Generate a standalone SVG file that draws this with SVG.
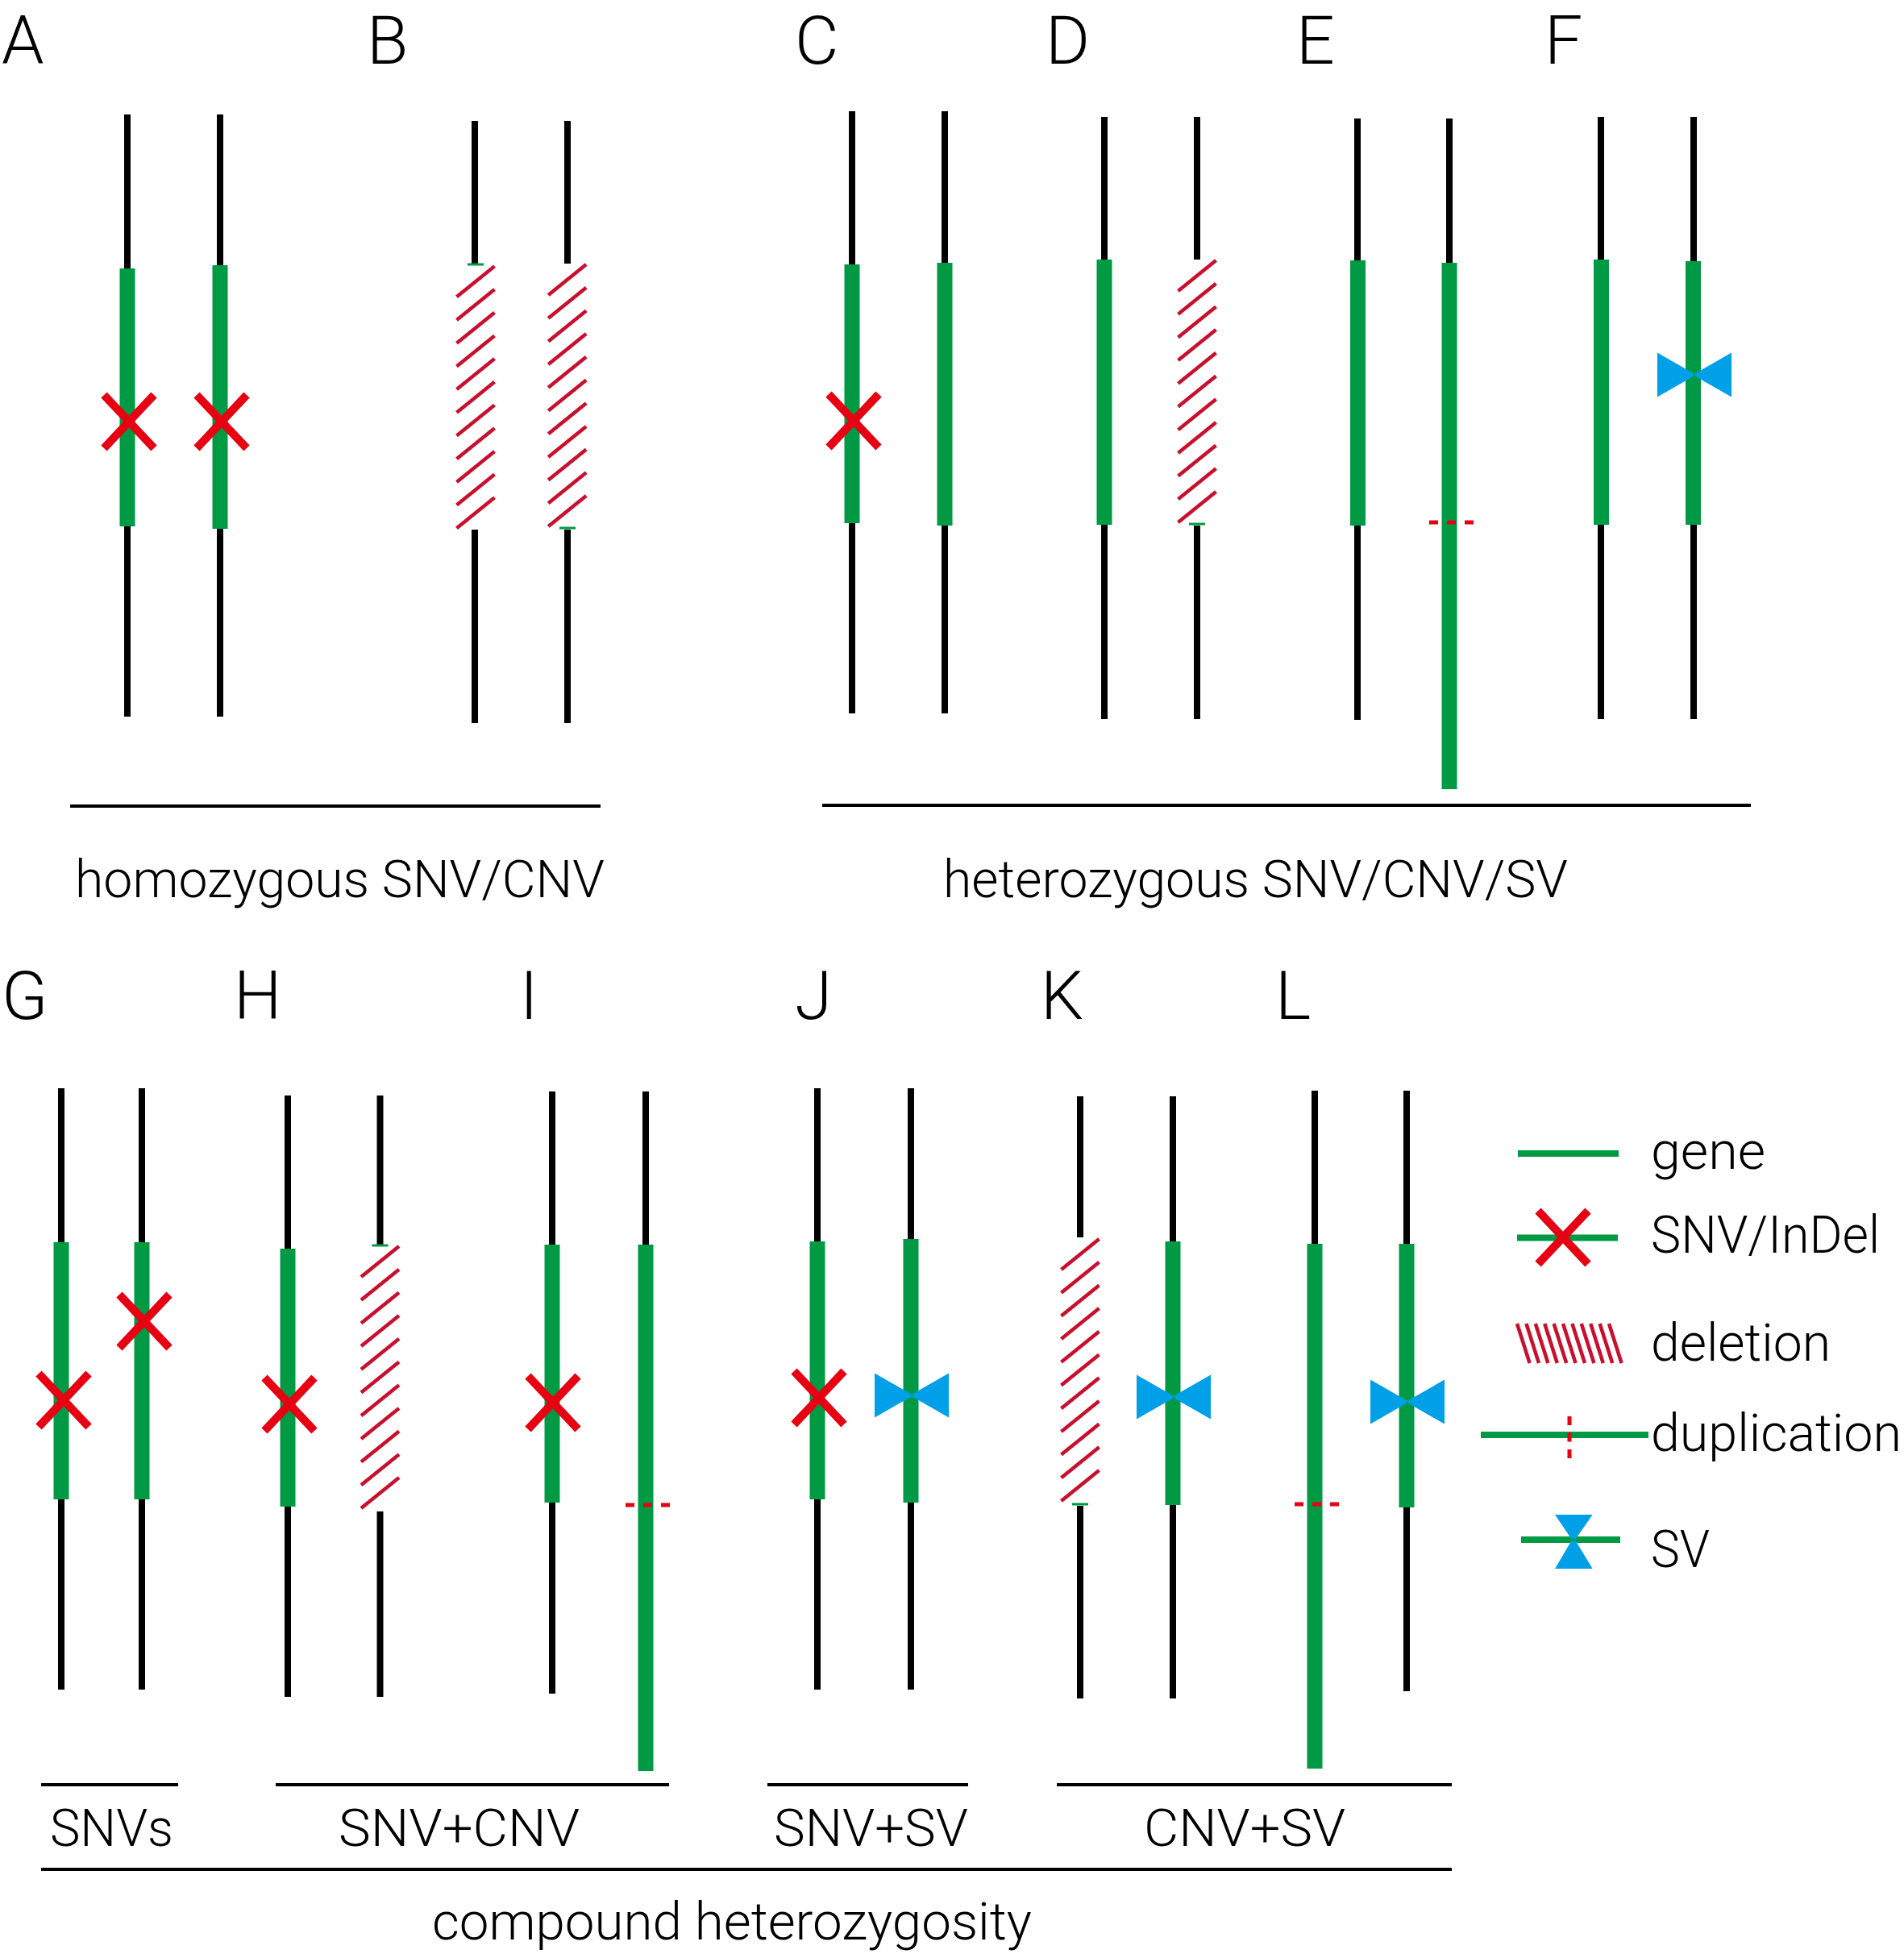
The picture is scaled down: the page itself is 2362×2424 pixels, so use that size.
<svg xmlns="http://www.w3.org/2000/svg" xmlns:xlink="http://www.w3.org/1999/xlink" width="2362" height="2424" viewBox="0 0 2362 2424">
<style>
.chr{fill:#000}
.gene{fill:#009a44}
.tick{fill:#009a44}
.lbl{font-family:Roboto,"Liberation Sans",Arial,sans-serif;font-weight:300;font-size:84px;fill:#000}
.txt{font-family:Roboto,"Liberation Sans",Arial,sans-serif;font-weight:300;font-size:64px;fill:#000}
.br{stroke:#000;stroke-width:4;fill:none}
.xm line{stroke:#e60012;stroke-width:10}
.dup{stroke:#e60012;stroke-width:5;stroke-dasharray:11 11}
.sv{fill:#00a0e9}
.hatch line{stroke:#c8102e;stroke-width:4.5}
</style>
<defs>
<g id="xmark" class="xm"><line x1="-31" y1="-33" x2="31" y2="33"/><line x1="31" y1="-33" x2="-31" y2="33"/></g>
<path id="bow" class="sv" d="M-46,-27.5 L2,0 L-46,27.5 Z M46,-27.5 L-2,0 L46,27.5 Z"/>
<g id="hatch" class="hatch">
<line x1="-23.5" y1="0" x2="23.5" y2="-38"/>
<line x1="-23.5" y1="28.7" x2="23.5" y2="-9.3"/>
<line x1="-23.5" y1="57.4" x2="23.5" y2="19.4"/>
<line x1="-23.5" y1="86.1" x2="23.5" y2="48.1"/>
<line x1="-23.5" y1="114.8" x2="23.5" y2="76.8"/>
<line x1="-23.5" y1="143.5" x2="23.5" y2="105.5"/>
<line x1="-23.5" y1="172.2" x2="23.5" y2="134.2"/>
<line x1="-23.5" y1="200.9" x2="23.5" y2="162.9"/>
<line x1="-23.5" y1="229.6" x2="23.5" y2="191.6"/>
<line x1="-23.5" y1="258.3" x2="23.5" y2="220.3"/>
<line x1="-23.5" y1="287" x2="23.5" y2="249"/>
</g>
</defs>
<rect width="2362" height="2424" fill="#fff"/>

<!-- Panel labels -->
<g id="labels">
<text class="lbl" x="2" y="79">A</text>
<text class="lbl" x="455" y="79">B</text>
<text class="lbl" x="986" y="79">C</text>
<text class="lbl" x="1297" y="79">D</text>
<text class="lbl" x="1608" y="79">E</text>
<text class="lbl" x="1916" y="79">F</text>
<text class="lbl" x="2" y="1264">G</text>
<text class="lbl" x="290" y="1264">H</text>
<text class="lbl" x="645" y="1264">I</text>
<text class="lbl" x="986" y="1264">J</text>
<text class="lbl" x="1291" y="1264">K</text>
<text class="lbl" x="1582" y="1264">L</text>
</g>

<!-- A -->
<g id="A">
<rect class="chr" x="154" y="142" width="8" height="747"/>
<rect class="gene" x="148.5" y="333" width="19" height="320"/>
<use xlink:href="#xmark" x="160" y="523"/>
<rect class="chr" x="269" y="142" width="8" height="747"/>
<rect class="gene" x="263.5" y="329" width="19" height="327"/>
<use xlink:href="#xmark" x="275" y="523"/>
</g>
<!-- B -->
<g id="B">
<rect class="chr" x="585" y="150" width="8" height="177"/>
<rect class="tick" x="580" y="326.5" width="20" height="3"/>
<use xlink:href="#hatch" transform="translate(590,368.3)"/>
<rect class="chr" x="585" y="657" width="8" height="240"/>
<rect class="chr" x="700" y="150" width="8" height="177"/>
<use xlink:href="#hatch" transform="translate(703.7,366)"/>
<rect class="tick" x="694" y="653.5" width="20" height="3"/>
<rect class="chr" x="700" y="657" width="8" height="240"/>
</g>
<!-- C -->
<g id="C">
<rect class="chr" x="1053" y="138" width="8" height="747"/>
<rect class="gene" x="1047.5" y="328" width="19" height="321"/>
<use xlink:href="#xmark" x="1059" y="522"/>
<rect class="chr" x="1168" y="138" width="8" height="747"/>
<rect class="gene" x="1162.5" y="326" width="19" height="326"/>
</g>
<!-- D -->
<g id="D">
<rect class="chr" x="1366" y="145" width="8" height="747"/>
<rect class="gene" x="1360.5" y="322" width="19" height="329"/>
<rect class="chr" x="1481" y="145" width="8" height="177"/>
<use xlink:href="#hatch" transform="translate(1485,361)"/>
<rect class="tick" x="1475" y="648.5" width="20" height="3"/>
<rect class="chr" x="1481" y="652" width="8" height="240"/>
</g>
<!-- E -->
<g id="E">
<rect class="chr" x="1680" y="147" width="8" height="746"/>
<rect class="gene" x="1675" y="323" width="19" height="329"/>
<rect class="chr" x="1794" y="147" width="8" height="179"/>
<rect class="gene" x="1788.5" y="326" width="19" height="653"/>
<line class="dup" x1="1773" y1="648" x2="1828" y2="648"/>
</g>
<!-- F -->
<g id="F">
<rect class="chr" x="1982" y="145" width="8" height="747"/>
<rect class="gene" x="1977" y="322" width="19" height="329"/>
<rect class="chr" x="2097" y="145" width="8" height="747"/>
<rect class="gene" x="2091" y="324" width="19" height="327"/>
<use xlink:href="#bow" x="2102" y="465"/>
</g>

<!-- G -->
<g id="G">
<rect class="chr" x="72" y="1350" width="8" height="746"/>
<rect class="gene" x="66.5" y="1541" width="19" height="319"/>
<use xlink:href="#xmark" x="79" y="1737"/>
<rect class="chr" x="172" y="1350" width="8" height="746"/>
<rect class="gene" x="166.5" y="1541" width="19" height="319"/>
<use xlink:href="#xmark" x="179" y="1639"/>
</g>
<!-- H -->
<g id="H">
<rect class="chr" x="353" y="1359" width="8" height="746"/>
<rect class="gene" x="347.5" y="1549" width="19" height="320"/>
<use xlink:href="#xmark" x="359" y="1742"/>
<rect class="chr" x="467.5" y="1359" width="8" height="185"/>
<rect class="tick" x="461.5" y="1543.5" width="20" height="3"/>
<use xlink:href="#hatch" transform="translate(471.5,1584)"/>
<rect class="chr" x="467.5" y="1875" width="8" height="230"/>
</g>
<!-- I -->
<g id="I">
<rect class="chr" x="681" y="1354" width="8" height="747"/>
<rect class="gene" x="675.5" y="1544" width="19" height="320"/>
<use xlink:href="#xmark" x="686" y="1740"/>
<rect class="chr" x="797" y="1354" width="8" height="190"/>
<rect class="gene" x="791.5" y="1544" width="19" height="653"/>
<line class="dup" x1="776" y1="1867" x2="831" y2="1867"/>
</g>
<!-- J -->
<g id="J">
<rect class="chr" x="1010" y="1350" width="8" height="746"/>
<rect class="gene" x="1004.5" y="1540" width="19" height="320"/>
<use xlink:href="#xmark" x="1016" y="1734"/>
<rect class="chr" x="1126" y="1350" width="8" height="746"/>
<rect class="gene" x="1120.5" y="1537" width="19" height="327"/>
<use xlink:href="#bow" x="1131" y="1731"/>
</g>
<!-- K -->
<g id="K">
<rect class="chr" x="1336" y="1360" width="8" height="175"/>
<use xlink:href="#hatch" transform="translate(1340,1575)"/>
<rect class="tick" x="1330" y="1864.5" width="20" height="3"/>
<rect class="chr" x="1336" y="1868" width="8" height="239"/>
<rect class="chr" x="1451" y="1360" width="8" height="747"/>
<rect class="gene" x="1445.5" y="1540" width="19" height="327"/>
<use xlink:href="#bow" x="1456" y="1733"/>
</g>
<!-- L -->
<g id="L">
<rect class="chr" x="1627" y="1353" width="8" height="190"/>
<rect class="gene" x="1621.5" y="1543" width="19" height="651"/>
<line class="dup" x1="1606" y1="1866" x2="1661" y2="1866"/>
<rect class="chr" x="1741" y="1353" width="8" height="745"/>
<rect class="gene" x="1735.5" y="1543" width="19" height="327"/>
<use xlink:href="#bow" x="1746" y="1739"/>
</g>

<!-- grouping brackets -->
<g id="connectors" class="br">
<line x1="87" y1="1000" x2="745" y2="1000"/>
<line x1="1020" y1="999" x2="2172" y2="999"/>
<line x1="51" y1="2214" x2="221" y2="2214"/>
<line x1="342" y1="2214" x2="830" y2="2214"/>
<line x1="952" y1="2214" x2="1201" y2="2214"/>
<line x1="1311" y1="2214" x2="1801" y2="2214"/>
<line x1="51" y1="2319" x2="1801" y2="2319"/>
</g>

<g id="captions">
<text class="txt" x="93" y="1113" textLength="657" lengthAdjust="spacingAndGlyphs">homozygous SNV/CNV</text>
<text class="txt" x="1170" y="1113" textLength="775" lengthAdjust="spacingAndGlyphs">heterozygous SNV/CNV/SV</text>
<text class="txt" x="62" y="2290" textLength="153" lengthAdjust="spacingAndGlyphs">SNVs</text>
<text class="txt" x="420" y="2290" textLength="299" lengthAdjust="spacingAndGlyphs">SNV+CNV</text>
<text class="txt" x="960" y="2290" textLength="241" lengthAdjust="spacingAndGlyphs">SNV+SV</text>
<text class="txt" x="1419" y="2290" textLength="250" lengthAdjust="spacingAndGlyphs">CNV+SV</text>
<text class="txt" x="536" y="2406" textLength="744" lengthAdjust="spacingAndGlyphs">compound heterozygosity</text>
</g>

<!-- legend -->
<g id="legend-gene">
<rect class="gene" x="1883" y="1427" width="125" height="8"/>
<text class="txt" x="2048" y="1450" textLength="142" lengthAdjust="spacingAndGlyphs">gene</text>
</g>
<g id="legend-snv">
<rect class="gene" x="1882" y="1531.5" width="125" height="8"/>
<use xlink:href="#xmark" x="1939" y="1535"/>
<text class="txt" x="2048" y="1554" textLength="284" lengthAdjust="spacingAndGlyphs">SNV/InDel</text>
</g>
<g id="legend-deletion" class="hatch">
<line x1="1882" y1="1642" x2="1897.6" y2="1691"/>
<line x1="1893.4" y1="1642" x2="1909" y2="1691"/>
<line x1="1904.8" y1="1642" x2="1920.4" y2="1691"/>
<line x1="1916.2" y1="1642" x2="1931.8" y2="1691"/>
<line x1="1927.6" y1="1642" x2="1943.2" y2="1691"/>
<line x1="1939" y1="1642" x2="1954.6" y2="1691"/>
<line x1="1950.4" y1="1642" x2="1966" y2="1691"/>
<line x1="1961.8" y1="1642" x2="1977.4" y2="1691"/>
<line x1="1973.2" y1="1642" x2="1988.8" y2="1691"/>
<line x1="1984.6" y1="1642" x2="2000.2" y2="1691"/>
<line x1="1996" y1="1642" x2="2011.6" y2="1691"/>
<text class="txt" x="2048" y="1688" textLength="223" lengthAdjust="spacingAndGlyphs">deletion</text>
</g>
<g id="legend-duplication">
<rect class="gene" x="1837" y="1776" width="208" height="8"/>
<line class="dup" x1="1947" y1="1757" x2="1947" y2="1812" style="stroke-dasharray:11 9.5"/>
<text class="txt" x="2048" y="1800" textLength="311" lengthAdjust="spacingAndGlyphs">duplication</text>
</g>
<g id="legend-sv">
<rect class="gene" x="1887" y="1906" width="123" height="8"/>
<path class="sv" d="M1929,1879 L1975.6,1879 L1952,1913 Z M1929,1946 L1975.6,1946 L1952,1907 Z"/>
<text class="txt" x="2048" y="1944" textLength="73" lengthAdjust="spacingAndGlyphs">SV</text>
</g>
</svg>
